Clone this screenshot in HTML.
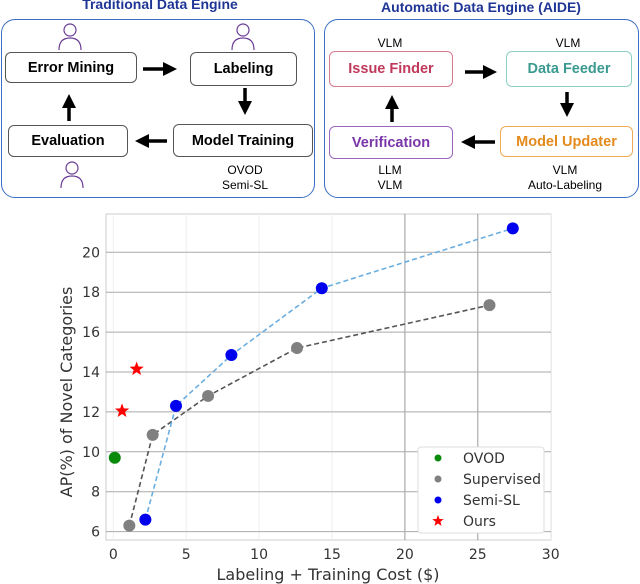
<!DOCTYPE html>
<html><head><meta charset="utf-8"><style>
body{margin:0;background:#fff;font-family:"Liberation Sans",sans-serif}
#root{position:relative;width:640px;height:584px;overflow:hidden}
.panel{position:absolute;border:1.5px solid #3a6fc4;border-radius:14px;box-sizing:border-box}
.title{position:absolute;font-weight:bold;color:#1f3596;font-size:14px;text-align:center}
.box{position:absolute;border:1.3px solid #555;border-radius:6px;box-sizing:border-box;display:flex;align-items:center;justify-content:center;font-weight:bold;font-size:14.5px}
.lbl{position:absolute;font-size:12px;text-align:center;line-height:15px}
</style></head><body><div id="root">
<div class="title" style="left:0;top:-4px;width:320px">Traditional Data Engine</div>
<div class="title" style="left:322px;top:-1px;width:318px">Automatic Data Engine (AIDE)</div>
<div class="panel" style="left:1px;top:19px;width:314px;height:179px"></div>
<div class="panel" style="left:324px;top:19px;width:315px;height:179px"></div>
<div class="box" style="left:5px;top:52px;width:132px;height:31px">Error Mining</div>
<div class="box" style="left:190px;top:52px;width:107px;height:34px">Labeling</div>
<div class="box" style="left:8px;top:125px;width:120px;height:32px">Evaluation</div>
<div class="box" style="left:173px;top:124px;width:140px;height:33px">Model Training</div>
<div class="lbl" style="left:205px;top:163px;width:80px">OVOD<br>Semi-SL</div>
<div class="box" style="left:329px;top:51px;width:124px;height:36px;color:#c0395a;border-color:#d77a90">Issue Finder</div>
<div class="box" style="left:506px;top:51px;width:126px;height:36px;color:#3a9a90;border-color:#8ccfc5">Data Feeder</div>
<div class="box" style="left:329px;top:126px;width:124px;height:33px;color:#7a35a8;border-color:#9a66c0">Verification</div>
<div class="box" style="left:500px;top:126px;width:133px;height:31px;color:#e48a1c;border-color:#eeaa55">Model Updater</div>
<div class="lbl" style="left:350px;top:36px;width:80px">VLM</div>
<div class="lbl" style="left:528px;top:36px;width:80px">VLM</div>
<div class="lbl" style="left:350px;top:163px;width:80px">LLM<br>VLM</div>
<div class="lbl" style="left:515px;top:163px;width:100px">VLM<br>Auto-Labeling</div>
<svg width="640" height="200" style="position:absolute;left:0;top:0">
<defs><marker id="ah" markerWidth="4" markerHeight="4" refX="2" refY="2" orient="auto"><path d="M0,0L4,2L0,4z" fill="#000"/></marker></defs>
<g stroke="#000" stroke-width="3.5" marker-end="url(#ah)">
<line x1="143" y1="69" x2="170" y2="69"/><line x1="245" y1="88" x2="245" y2="108"/><line x1="167" y1="141" x2="142" y2="141"/><line x1="69" y1="121" x2="69" y2="101"/>
<line x1="465" y1="72" x2="490" y2="72"/><line x1="567" y1="92" x2="567" y2="110"/><line x1="495" y1="142" x2="468" y2="142"/><line x1="392" y1="122" x2="392" y2="102"/>
</g>
<g fill="none" stroke="#6a3c96" stroke-width="1.2">
<g transform="translate(70,22)"><circle cx="0" cy="8" r="6"/><path d="M-11,28 Q-11,16 0,16 Q11,16 11,28"/></g>
<g transform="translate(243,22)"><circle cx="0" cy="8" r="6"/><path d="M-11,28 Q-11,16 0,16 Q11,16 11,28"/></g>
<g transform="translate(72,160)"><circle cx="0" cy="8" r="6"/><path d="M-11,28 Q-11,16 0,16 Q11,16 11,28"/></g>
</g></svg>
<svg id="chart" width="640" height="584" style="position:absolute;left:0;top:0"></svg>
<script>
const supX=[1.1,2.7,6.5,12.6,25.8], supY=[6.3,10.85,12.8,15.2,17.35];
const semiX=[2.2,4.3,8.1,14.3,27.4], semiY=[6.6,12.3,14.85,18.2,21.2];
const ovodX=[0.1], ovodY=[9.7];
const oursX=[0.6,1.6], oursY=[12.05,14.15];
const xTicks=[0,5,10,15,20,25,30], yTicks=[6,8,10,12,14,16,18,20];
const L=106,R=551,T=214,B=540;
const xs=v=>113.3+v*14.58, ys=v=>252.3-(v-20)*19.95;
const svg=document.getElementById('chart');const NS='http://www.w3.org/2000/svg';
function el(t,a,txt){const e=document.createElementNS(NS,t);for(const k in a)e.setAttribute(k,a[k]);if(txt!=null)e.textContent=txt;svg.appendChild(e);return e;}
let r=el('rect',{x:L,y:T,width:R-L,height:B-T,fill:'#fff',stroke:'#ccc','stroke-width':1});

xTicks.forEach(v=>{const x=xs(v);let g=el('line',{x1:x,x2:x,y1:T,y2:B,stroke:(v==20||v==25)?'#999':'#eee','stroke-width':1});

let t=el('text',{x:x,y:B+19,'text-anchor':'middle','font-size':14,fill:'#333','font-family':'DejaVu Sans'},v);
});
yTicks.forEach(v=>{const y=ys(v);let g=el('line',{x1:L,x2:R,y1:y,y2:y,stroke:'#aaa','stroke-width':1});

let t=el('text',{x:L-6,y:y+5,'text-anchor':'end','font-size':14,fill:'#333','font-family':'DejaVu Sans'},v);
});
let xt=el('text',{x:328,y:580,'text-anchor':'middle','font-size':16,fill:'#333','font-family':'DejaVu Sans'},'Labeling + Training Cost ($)');

let yt=el('text',{x:0,y:0,'text-anchor':'middle','font-size':16,fill:'#333','font-family':'DejaVu Sans',transform:'translate(72,392) rotate(-90)'},'AP(%) of Novel Categories');

function line(X,Y,c,n){let p=el('polyline',{points:X.map((x,i)=>xs(x)+','+ys(Y[i])).join(' '),fill:'none',stroke:c,'stroke-width':1.6,'stroke-dasharray':'5,3'});
}
line(supX,supY,'#555','supervised-line');line(semiX,semiY,'#6aaee0','semisl-line');
function pts(X,Y,c,n){X.forEach((x,i)=>{let d=el('circle',{cx:xs(x),cy:ys(Y[i]),r:6,fill:c});
});}
pts(supX,supY,'#808080','supervised-point');pts(semiX,semiY,'#0000ee','semisl-point');pts(ovodX,ovodY,'#0a8a0a','ovod-point');
function star(cx,cy,R1){let s='';for(let i=0;i<10;i++){const a=-Math.PI/2+i*Math.PI/5,rr=i%2?R1*0.42:R1;s+=(cx+rr*Math.cos(a))+','+(cy+rr*Math.sin(a))+' ';}return s;}
oursX.forEach((x,i)=>{let s=el('polygon',{points:star(xs(x),ys(oursY[i]),7.5),fill:'#f00'});
});
let lg=el('rect',{x:418,y:447,width:126,height:86,fill:'#fff',stroke:'#ddd',rx:3});

const legNames=['OVOD','Supervised','Semi-SL','Ours'],legCols=['#0a8a0a','#808080','#0000ee','#f00'];
legNames.forEach((n,i)=>{const y=458+i*21;
let m=i==3?el('polygon',{points:star(438,y,6),fill:legCols[i]}):el('circle',{cx:438,cy:y,r:3.5,fill:legCols[i]});

let t=el('text',{x:463,y:y+5,'font-size':14,fill:'#333','font-family':'DejaVu Sans'},n);
});
</script></div></body></html>
